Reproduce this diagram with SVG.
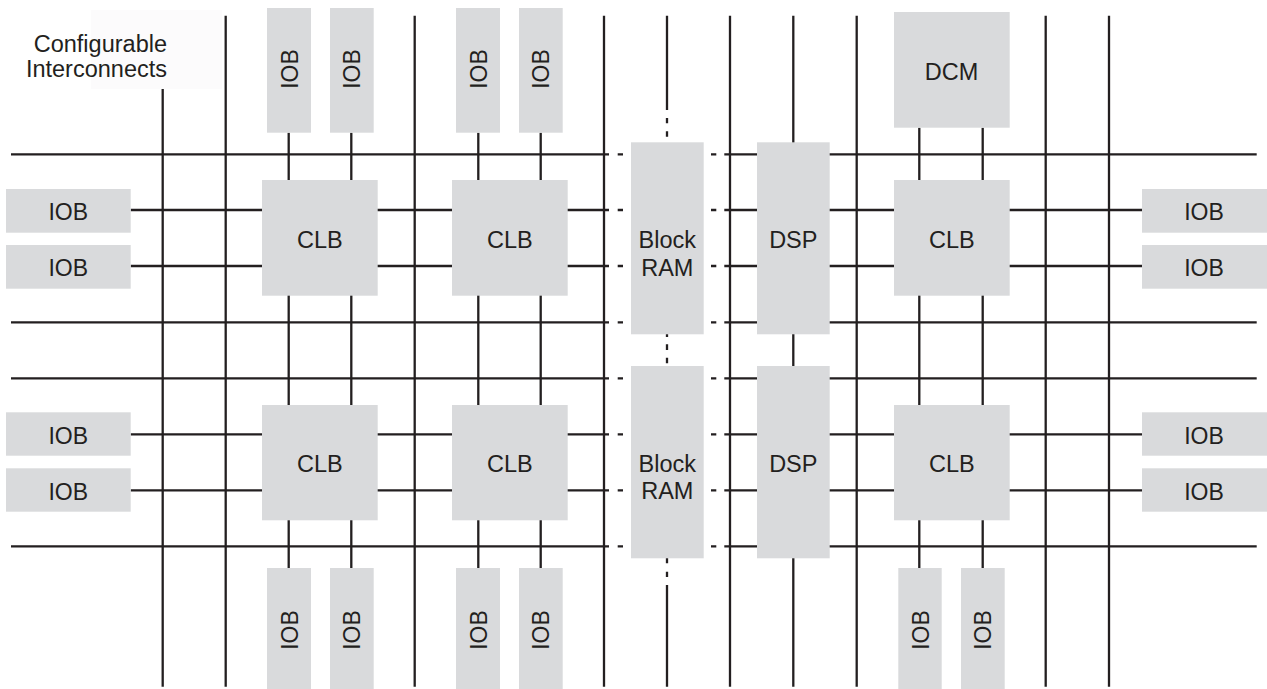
<svg xmlns="http://www.w3.org/2000/svg" width="1267" height="689" viewBox="0 0 1267 689">
<style>
.bus{stroke:#231f20;stroke-width:2.3;fill:none}
.blk{fill:#d9dadc}
.t{font-family:"Liberation Sans",Arial,sans-serif;font-size:23.5px;fill:#231f20;text-anchor:middle}
.io{font-size:23px}
.lbl{font-family:"Liberation Sans",Arial,sans-serif;font-size:23.5px;fill:#231f20;text-anchor:end}
</style>
<rect width="1267" height="689" fill="#ffffff"/>
<g id="connectors" class="bus">
<path d="M11,154.3H609M617.7,154.3H623M711,154.3H716.3M724.3,154.3H1256.7"/>
<path d="M11,322.3H609M617.7,322.3H623M711,322.3H716.3M724.3,322.3H1256.7"/>
<path d="M11,378.3H609M617.7,378.3H623M711,378.3H716.3M724.3,378.3H1256.7"/>
<path d="M11,546.3H609M617.7,546.3H623M711,546.3H716.3M724.3,546.3H1256.7"/>
<path d="M130.7,210H609M617.7,210H623M711,210H716.3M724.3,210H1142"/>
<path d="M130.7,266H609M617.7,266H623M711,266H716.3M724.3,266H1142"/>
<path d="M130.7,434.3H609M617.7,434.3H623M711,434.3H716.3M724.3,434.3H1142"/>
<path d="M130.7,490.3H609M617.7,490.3H623M711,490.3H716.3M724.3,490.3H1142"/>
<path d="M162.7,89V686.7"/>
<path d="M225.7,15.7V686.7"/>
<path d="M414.7,15.7V686.7"/>
<path d="M604,15.7V686.7"/>
<path d="M730,15.7V686.7"/>
<path d="M856.7,15.7V686.7"/>
<path d="M1045.7,15.7V686.7"/>
<path d="M1109,15.7V686.7"/>
<path d="M793.3,15.7V686.7"/>
<path d="M667,15.7V110M667,118V123.3M667,131.3V136.7M667,331V337M667,344.3V350M667,357.7V363.3M667,557V563.3M667,571.7V577M667,585V686.7"/>
<path d="M288.7,132.7V568M351.3,132.7V568"/>
<path d="M478.3,132.7V568M540.7,132.7V568"/>
<path d="M919.3,127.7V568M982.7,127.7V568"/>
</g>
<g id="label-configurable-interconnects">
<rect x="91" y="10" width="131" height="79" fill="#fcfbfc"/>
<text class="lbl" x="167" y="52">Configurable</text>
<text class="lbl" x="167" y="76.5">Interconnects</text>
</g>
<g id="iob-top-1"><rect class="blk" x="267" y="8" width="44" height="124.7"/><text class="t io" transform="translate(297.5,69) rotate(-90)">IOB</text></g>
<g id="iob-top-2"><rect class="blk" x="330" y="8" width="43.7" height="124.7"/><text class="t io" transform="translate(360.3,69) rotate(-90)">IOB</text></g>
<g id="iob-top-3"><rect class="blk" x="456" y="8" width="44" height="124.7"/><text class="t io" transform="translate(486.5,69) rotate(-90)">IOB</text></g>
<g id="iob-top-4"><rect class="blk" x="519" y="8" width="43.7" height="124.7"/><text class="t io" transform="translate(549.3,69) rotate(-90)">IOB</text></g>
<g id="dcm"><rect class="blk" x="894" y="12" width="115.7" height="115.7"/><text class="t" x="951.5" y="80">DCM</text></g>
<g id="iob-left-1"><rect class="blk" x="6" y="189" width="124.7" height="43.7"/><text class="t io" x="68.3" y="219.5">IOB</text></g>
<g id="iob-left-2"><rect class="blk" x="6" y="245" width="124.7" height="43.7"/><text class="t io" x="68.3" y="275.5">IOB</text></g>
<g id="iob-left-3"><rect class="blk" x="6" y="412.3" width="124.7" height="43.4"/><text class="t io" x="68.3" y="443.5">IOB</text></g>
<g id="iob-left-4"><rect class="blk" x="6" y="468.3" width="124.7" height="43.4"/><text class="t io" x="68.3" y="499.5">IOB</text></g>
<g id="iob-right-1"><rect class="blk" x="1142" y="189" width="125" height="43.7"/><text class="t io" x="1204" y="219.5">IOB</text></g>
<g id="iob-right-2"><rect class="blk" x="1142" y="245" width="125" height="43.7"/><text class="t io" x="1204" y="275.5">IOB</text></g>
<g id="iob-right-3"><rect class="blk" x="1142" y="412.3" width="125" height="43.4"/><text class="t io" x="1204" y="443.5">IOB</text></g>
<g id="iob-right-4"><rect class="blk" x="1142" y="468.3" width="125" height="43.4"/><text class="t io" x="1204" y="499.5">IOB</text></g>
<g id="clb-1"><rect class="blk" x="262" y="180" width="115.7" height="115.7"/><text class="t" x="319.8" y="248.3">CLB</text></g>
<g id="clb-2"><rect class="blk" x="452" y="180" width="115.7" height="115.7"/><text class="t" x="509.8" y="248.3">CLB</text></g>
<g id="clb-3"><rect class="blk" x="894" y="180" width="115.7" height="115.7"/><text class="t" x="951.8" y="248.3">CLB</text></g>
<g id="clb-4"><rect class="blk" x="262" y="405" width="115.7" height="115.3"/><text class="t" x="319.8" y="471.7">CLB</text></g>
<g id="clb-5"><rect class="blk" x="452" y="405" width="115.7" height="115.3"/><text class="t" x="509.8" y="471.7">CLB</text></g>
<g id="clb-6"><rect class="blk" x="894" y="405" width="115.7" height="115.3"/><text class="t" x="951.8" y="471.7">CLB</text></g>
<g id="block-ram-1"><rect class="blk" x="631" y="142.3" width="72.7" height="192"/><text class="t" x="667.3" y="248.3">Block</text><text class="t" x="667.3" y="276">RAM</text></g>
<g id="block-ram-2"><rect class="blk" x="631" y="366" width="72.7" height="192.3"/><text class="t" x="667.3" y="471.7">Block</text><text class="t" x="667.3" y="499.3">RAM</text></g>
<g id="dsp-1"><rect class="blk" x="757" y="142.3" width="72.7" height="192"/><text class="t" x="793.3" y="248.3">DSP</text></g>
<g id="dsp-2"><rect class="blk" x="757" y="366" width="72.7" height="192.3"/><text class="t" x="793.3" y="471.7">DSP</text></g>
<g id="iob-bottom-1"><rect class="blk" x="267" y="568" width="44" height="121"/><text class="t io" transform="translate(297.5,630) rotate(-90)">IOB</text></g>
<g id="iob-bottom-2"><rect class="blk" x="330" y="568" width="43.7" height="121"/><text class="t io" transform="translate(360.3,630) rotate(-90)">IOB</text></g>
<g id="iob-bottom-3"><rect class="blk" x="456" y="568" width="44" height="121"/><text class="t io" transform="translate(486.5,630) rotate(-90)">IOB</text></g>
<g id="iob-bottom-4"><rect class="blk" x="519" y="568" width="43.7" height="121"/><text class="t io" transform="translate(549.3,630) rotate(-90)">IOB</text></g>
<g id="iob-bottom-5"><rect class="blk" x="898.3" y="568" width="43.4" height="121"/><text class="t io" transform="translate(928.5,630) rotate(-90)">IOB</text></g>
<g id="iob-bottom-6"><rect class="blk" x="961" y="568" width="43.7" height="121"/><text class="t io" transform="translate(991.3,630) rotate(-90)">IOB</text></g>
</svg>
